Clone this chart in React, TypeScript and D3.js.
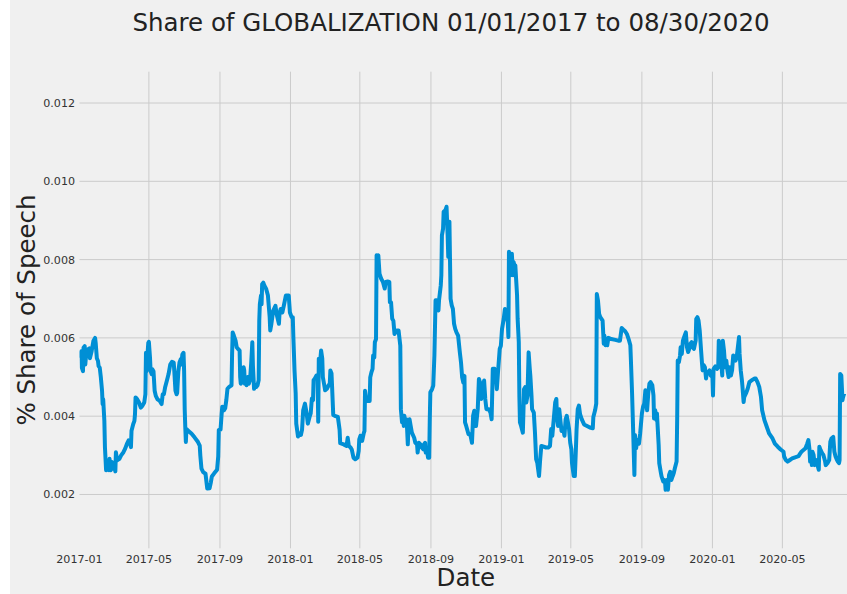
import React, { useRef, useEffect } from 'react';
import * as d3 from 'd3';

const W = 847;
const H = 594;

const START = Date.UTC(2017, 0, 1);
const END = Date.UTC(2020, 7, 30);

// days since 2017-01-01
const dayOffsets = [
  0, 3, 4, 6, 7, 9, 10, 12, 14, 17,
  18, 21, 24, 27, 28, 30, 32, 33, 35, 37,
  39, 40, 41, 43, 44, 46, 47, 49, 51, 52,
  54, 56, 58, 60, 62, 63, 65, 69, 72, 76,
  79, 82, 85, 87, 89, 90, 93, 95, 96, 97,
  100, 103, 106, 109, 112, 114, 115, 116, 118, 119,
  120, 122, 123, 125, 126, 128, 130, 132, 135, 139,
  142, 144, 146, 148, 151, 154, 157, 160, 163, 164,
  166, 168, 169, 171, 173, 175, 176, 178, 180, 181,
  182, 183, 184, 185, 188, 194, 199, 205, 208, 209,
  211, 214, 218, 221, 225, 227, 229, 233, 238, 240,
  241, 244, 246, 247, 250, 252, 254, 256, 259, 263,
  264, 265, 267, 270, 272, 274, 277, 278, 279, 281,
  282, 284, 285, 286, 288, 289, 291, 293, 295, 297,
  299, 300, 302, 304, 306, 308, 310, 311, 312, 314,
  315, 316, 318, 320, 323, 326, 329, 330, 332, 335,
  339, 341, 345, 346, 348, 351, 354, 357, 362, 364,
  367, 369, 370, 372, 374, 375, 378, 380, 383, 385,
  387, 390, 393, 395, 398, 400, 402, 404, 405, 407,
  410, 412, 413, 414, 416, 418, 420, 421, 423, 425,
  428, 431, 433, 434, 436, 437, 439, 443, 447, 450,
  451, 457, 462, 464, 466, 469, 471, 474, 477, 481,
  483, 484, 486, 489, 492, 493, 494, 496, 498, 502,
  503, 505, 507, 508, 510, 511, 513, 514, 516, 517,
  519, 522, 525, 528, 530, 533, 536, 537, 539, 541,
  543, 545, 549, 552, 555, 556, 558, 560, 561, 562,
  564, 566, 568, 569, 571, 573, 575, 579, 581, 584,
  585, 587, 590, 592, 595, 596, 598, 599, 601, 603,
  605, 606, 607, 610, 612, 614, 616, 618, 621, 622,
  625, 626, 627, 629, 630, 633, 635, 637, 638, 640,
  642, 644, 646, 648, 650, 652, 655, 658, 660, 662,
  664, 666, 667, 669, 673, 676, 679, 681, 683, 685,
  686, 689, 691, 693, 695, 697, 700, 702, 704, 708,
  711, 713, 715, 718, 720, 722, 724, 727, 729, 731,
  734, 736, 738, 741, 742, 743, 745, 746, 748, 750,
  751, 753, 754, 757, 758, 760, 761, 762, 764, 767,
  768, 769, 771, 773, 775, 777, 779, 780, 782, 783,
  786, 788, 790, 792, 795, 797, 799, 803, 807, 811,
  814, 816, 818, 821, 823, 825, 826, 828, 830, 833,
  834, 837, 839, 841, 843, 845, 847, 849, 851, 852,
  855, 857, 859, 860, 862, 864, 866, 869, 873, 878,
  883, 888, 889, 892, 894, 895, 897, 899, 901, 905,
  907, 908, 910, 912, 913, 915, 920, 927, 932, 935,
  938, 941, 944, 947, 950, 953, 954, 956, 958, 960,
  961, 963, 965, 968, 970, 973, 975, 977, 979, 980,
  982, 984, 986, 988, 991, 993, 994, 996, 998, 999,
  1002, 1003, 1006, 1007, 1010, 1011, 1013, 1014, 1016, 1018,
  1020, 1022, 1024, 1026, 1028, 1030, 1033, 1034, 1035, 1037,
  1039, 1040, 1042, 1044, 1046, 1048, 1049, 1051, 1053, 1055,
  1057, 1059, 1061, 1063, 1066, 1067, 1069, 1071, 1073, 1075,
  1077, 1078, 1080, 1082, 1084, 1085, 1088, 1090, 1092, 1095,
  1096, 1097, 1100, 1103, 1105, 1106, 1108, 1110, 1112, 1113,
  1115, 1117, 1119, 1121, 1123, 1125, 1127, 1129, 1131, 1133,
  1135, 1137, 1139, 1141, 1142, 1144, 1146, 1147, 1149, 1150,
  1153, 1156, 1159, 1163, 1168, 1170, 1173, 1176, 1179, 1181,
  1185, 1189, 1193, 1199, 1203, 1208, 1213, 1218, 1219, 1222,
  1225, 1229, 1233, 1238, 1244, 1247, 1249, 1253, 1256, 1259,
  1261, 1263, 1264, 1266, 1267, 1268, 1270, 1271, 1272, 1274,
  1276, 1279, 1280, 1282, 1285, 1287, 1290, 1291, 1294, 1297,
  1299, 1301, 1304, 1306, 1308, 1310, 1312, 1314, 1315, 1316,
  1318, 1320, 1321, 1323,
];

// share of speech for each day above
const shares = [
  0.00549, 0.00566, 0.00524, 0.00515, 0.00575, 0.00579, 0.00532, 0.00566, 0.0057, 0.00573,
  0.00548, 0.00566, 0.00592, 0.006, 0.00587, 0.00548, 0.00541, 0.00528, 0.00524, 0.00498,
  0.00465, 0.00431, 0.00443, 0.00388, 0.00321, 0.00262, 0.00266, 0.00287, 0.00262, 0.00291,
  0.00262, 0.00283, 0.00266, 0.00279, 0.00259, 0.00308, 0.00287, 0.00291, 0.003, 0.00308,
  0.00317, 0.00329, 0.00338, 0.00334, 0.00321, 0.00363, 0.0038, 0.00388, 0.00405, 0.00448,
  0.00443, 0.00435, 0.00422, 0.00427, 0.00435, 0.00456, 0.00562, 0.00515, 0.00566, 0.00587,
  0.0059, 0.00549, 0.00515, 0.00507, 0.0052, 0.00515, 0.00465, 0.00452, 0.00443, 0.00439,
  0.00431, 0.00456, 0.00456, 0.00473, 0.0049, 0.00507, 0.00532, 0.00539, 0.00537, 0.00515,
  0.00465, 0.00456, 0.0046, 0.00515, 0.00537, 0.00545, 0.00532, 0.00558, 0.00562, 0.00515,
  0.00418, 0.00372, 0.00334, 0.00367, 0.00363, 0.00355, 0.00346, 0.00334, 0.00325, 0.003,
  0.00266, 0.00257, 0.00253, 0.00215, 0.00216, 0.00229, 0.00246, 0.00254, 0.00263, 0.00297,
  0.00365, 0.00366, 0.00407, 0.00424, 0.00415, 0.0042, 0.00441, 0.0047, 0.00475, 0.00479,
  0.00559, 0.00614, 0.00606, 0.00593, 0.00576, 0.00572, 0.00568, 0.005, 0.00483, 0.00487,
  0.005, 0.00525, 0.00517, 0.00483, 0.00496, 0.00479, 0.005, 0.00483, 0.00492, 0.00534,
  0.00589, 0.0053, 0.0047, 0.00479, 0.00475, 0.00479, 0.00492, 0.00644, 0.00686, 0.00708,
  0.00686, 0.00737, 0.00741, 0.00733, 0.00725, 0.00708, 0.00653, 0.00619, 0.00636, 0.00669,
  0.00682, 0.00661, 0.00636, 0.00661, 0.00674, 0.00665, 0.00686, 0.00708, 0.00708, 0.00665,
  0.00653, 0.00653, 0.00602, 0.00517, 0.00458, 0.00381, 0.00348, 0.00356, 0.00352, 0.00365,
  0.00415, 0.00432, 0.00407, 0.00381, 0.00398, 0.00407, 0.00445, 0.00441, 0.00492, 0.00496,
  0.00504, 0.00492, 0.00386, 0.00547, 0.00534, 0.00568, 0.00547, 0.005, 0.00483, 0.00466,
  0.0047, 0.00479, 0.00483, 0.00517, 0.00509, 0.00475, 0.00403, 0.004, 0.00398, 0.00365,
  0.00331, 0.00328, 0.00324, 0.00345, 0.00324, 0.0032, 0.00315, 0.00294, 0.0029, 0.00294,
  0.00311, 0.00341, 0.0035, 0.00337, 0.00358, 0.00362, 0.00465, 0.00444, 0.00439, 0.00439,
  0.00499, 0.00512, 0.00521, 0.00555, 0.0055, 0.00589, 0.00597, 0.00811, 0.00807, 0.00811,
  0.00764, 0.00751, 0.00743, 0.00726, 0.00743, 0.00744, 0.00743, 0.00691, 0.00691, 0.00649,
  0.00644, 0.0061, 0.00619, 0.00619, 0.0058, 0.00418, 0.00384, 0.00401, 0.00375, 0.00401,
  0.00384, 0.00392, 0.00328, 0.00367, 0.00392, 0.00375, 0.00358, 0.00345, 0.00332, 0.00328,
  0.00307, 0.00332, 0.00328, 0.0032, 0.00315, 0.00328, 0.00332, 0.00307, 0.00315, 0.00294,
  0.00294, 0.00392, 0.00461, 0.00469, 0.00478, 0.00555, 0.00696, 0.00696, 0.0067, 0.00696,
  0.00734, 0.0076, 0.00862, 0.00879, 0.00922, 0.00926, 0.00935, 0.00858, 0.00807, 0.00897,
  0.007, 0.00683, 0.00674, 0.00636, 0.00623, 0.00615, 0.00606, 0.00563, 0.00538, 0.00499,
  0.00486, 0.00503, 0.00384, 0.00375, 0.00354, 0.00354, 0.00332, 0.00401, 0.00414, 0.00384,
  0.00375, 0.00418, 0.00495, 0.00486, 0.00444, 0.00469, 0.00491, 0.00444, 0.00418, 0.00418,
  0.00409, 0.00392, 0.00521, 0.00521, 0.00512, 0.00469, 0.00512, 0.00572, 0.0058, 0.00623,
  0.00649, 0.00674, 0.0067, 0.0064, 0.00602, 0.0082, 0.00794, 0.0076, 0.00815, 0.0076,
  0.00794, 0.00781, 0.00785, 0.00709, 0.00649, 0.00589, 0.00452, 0.00384, 0.00375, 0.00358,
  0.00409, 0.00469, 0.00474, 0.00435, 0.00452, 0.00563, 0.00521, 0.00503, 0.00452, 0.00418,
  0.00409, 0.00358, 0.0029, 0.00281, 0.00247, 0.0029, 0.00324, 0.00322, 0.0032, 0.0032,
  0.00324, 0.00367, 0.0035, 0.00401, 0.00435, 0.00444, 0.00401, 0.00375, 0.00418, 0.00375,
  0.00362, 0.00367, 0.0035, 0.00392, 0.00401, 0.00384, 0.00367, 0.00332, 0.00315, 0.00281,
  0.00247, 0.00247, 0.00324, 0.00367, 0.00418, 0.00427, 0.00405, 0.00392, 0.00379, 0.00375,
  0.00371, 0.00369, 0.00398, 0.00415, 0.00432, 0.00712, 0.00695, 0.00661, 0.00653, 0.00644,
  0.00585, 0.00606, 0.00581, 0.00593, 0.00581, 0.006, 0.00597, 0.00595, 0.00593, 0.00593,
  0.00625, 0.00621, 0.00617, 0.0061, 0.00597, 0.00581, 0.00542, 0.00458, 0.00356, 0.0025,
  0.00352, 0.00318, 0.00339, 0.0033, 0.00356, 0.00407, 0.00424, 0.00432, 0.00466, 0.00449,
  0.00415, 0.00458, 0.00483, 0.00487, 0.00479, 0.00453, 0.00394, 0.00415, 0.0039, 0.00407,
  0.00326, 0.0028, 0.00254, 0.00246, 0.00233, 0.00237, 0.00233, 0.00212, 0.00237, 0.00212,
  0.0025, 0.00258, 0.00237, 0.00246, 0.00254, 0.00267, 0.00284, 0.0039, 0.00542, 0.00538,
  0.00555, 0.00576, 0.00559, 0.00593, 0.00602, 0.0061, 0.00614, 0.00576, 0.00564, 0.00572,
  0.00585, 0.00589, 0.00576, 0.00572, 0.00593, 0.00648, 0.00653, 0.00644, 0.00619, 0.00576,
  0.00534, 0.00517, 0.0053, 0.00525, 0.00496, 0.00508, 0.00513, 0.00517, 0.00504, 0.005,
  0.00453, 0.00521, 0.00527, 0.00521, 0.00525, 0.00593, 0.00568, 0.00542, 0.00504, 0.00593,
  0.00568, 0.00525, 0.00542, 0.00517, 0.005, 0.00525, 0.00504, 0.00517, 0.00555, 0.00551,
  0.00542, 0.00551, 0.00576, 0.00602, 0.00559, 0.00517, 0.00492, 0.00475, 0.00436, 0.00449,
  0.00458, 0.0047, 0.00487, 0.00492, 0.00496, 0.00496, 0.00487, 0.00475, 0.00449, 0.00415,
  0.0039, 0.00373, 0.00356, 0.00343, 0.0033, 0.00322, 0.00315, 0.00309, 0.00297, 0.00288,
  0.00284, 0.00288, 0.00292, 0.00295, 0.00298, 0.00305, 0.00309, 0.00314, 0.00318, 0.0033,
  0.00339, 0.00314, 0.00284, 0.00297, 0.00275, 0.00309, 0.00301, 0.00288, 0.00275, 0.00288,
  0.0028, 0.00263, 0.00322, 0.00314, 0.00305, 0.00301, 0.00284, 0.00275, 0.0028, 0.00288,
  0.00335, 0.00343, 0.00347, 0.00309, 0.00297, 0.0029, 0.00284, 0.0028, 0.00288, 0.00508,
  0.00504, 0.00441, 0.00449, 0.00458,
];

const yTicks = [0.002, 0.004, 0.006, 0.008, 0.01, 0.012];

const TITLE = 'Share of GLOBALIZATION 01/01/2017 to 08/30/2020';

const FONT = '"DejaVu Sans", sans-serif';

const ShareChart = () => {
  const svgRef = useRef(null);

  useEffect(() => {
    const svg = d3.select(svgRef.current);
    svg.selectAll('*').remove();

    const left = 79.5;
    const right = 852.3;
    const top = 71.7;
    const bottom = 548.3;

    const data = dayOffsets.map((d, i) => ({
      date: d3.utcDay.offset(new Date(START), d),
      value: shares[i],
    }));

    // scales
    const x = d3.scaleUtc().domain([new Date(START), new Date(END)]).range([left, right]);
    const y = d3.scaleLinear().domain([0.000625, 0.0128]).range([bottom, top]);

    // background
    svg.append('rect').attr('width', W).attr('height', H).attr('fill', '#ffffff');
    svg.append('rect').attr('x', 10).attr('width', W - 10).attr('height', H).attr('fill', '#f0f0f0');

    svg
      .append('defs')
      .append('clipPath')
      .attr('id', 'plot-clip')
      .append('rect')
      .attr('x', left)
      .attr('y', top)
      .attr('width', right - left)
      .attr('height', bottom - top);

    // grid
    const xTicks = x.ticks(d3.utcMonth.every(4)).filter((t) => x(t) > left + 1);
    const grid = svg.append('g').attr('stroke', '#cbcbcb').attr('stroke-width', 1);
    grid
      .selectAll('.hgrid')
      .data(yTicks)
      .join('line')
      .attr('x1', left)
      .attr('x2', right)
      .attr('y1', (d) => y(d))
      .attr('y2', (d) => y(d));
    grid
      .selectAll('.vgrid')
      .data(xTicks)
      .join('line')
      .attr('x1', (d) => x(d))
      .attr('x2', (d) => x(d))
      .attr('y1', top)
      .attr('y2', bottom);

    // tick labels
    const fmt = d3.utcFormat('%Y-%m');
    svg
      .append('g')
      .selectAll('text')
      .data(x.ticks(d3.utcMonth.every(4)))
      .join('text')
      .attr('x', (d) => x(d))
      .attr('y', 563)
      .attr('text-anchor', 'middle')
      .attr('font-family', FONT)
      .attr('font-size', 11.1)
      .attr('fill', '#333333')
      .text((d) => fmt(d));

    svg
      .append('g')
      .selectAll('text')
      .data(yTicks)
      .join('text')
      .attr('x', 75)
      .attr('y', (d) => y(d))
      .attr('dy', '0.36em')
      .attr('text-anchor', 'end')
      .attr('font-family', FONT)
      .attr('font-size', 11.1)
      .attr('fill', '#333333')
      .text((d) => d3.format('.3f')(d));

    // line
    const myLine = d3
      .line()
      .x((d) => x(d.date))
      .y((d) => y(d.value));

    svg
      .append('path')
      .datum(data)
      .attr('clip-path', 'url(#plot-clip)')
      .attr('d', myLine)
      .attr('fill', 'none')
      .attr('stroke', '#008fd5')
      .attr('stroke-width', 4)
      .attr('stroke-linejoin', 'round');

    // titles
    svg
      .append('text')
      .attr('x', 451)
      .attr('y', 31)
      .attr('text-anchor', 'middle')
      .attr('font-family', FONT)
      .attr('font-size', 24.5)
      .attr('fill', '#222222')
      .text(TITLE);

    svg
      .append('text')
      .attr('x', (left + right) / 2)
      .attr('y', 586)
      .attr('text-anchor', 'middle')
      .attr('font-family', FONT)
      .attr('font-size', 24.5)
      .attr('fill', '#222222')
      .text('Date');

    svg
      .append('text')
      .attr('transform', `translate(35, ${(top + bottom) / 2}) rotate(-90)`)
      .attr('text-anchor', 'middle')
      .attr('font-family', FONT)
      .attr('font-size', 24.5)
      .attr('fill', '#222222')
      .text('% Share of Speech');
  }, []);

  return (
    <svg
      ref={svgRef}
      width={W}
      height={H}
      style={{ position: 'absolute', left: 0, top: 0, display: 'block' }}
    />
  );
};

export default function App() {
  return <ShareChart />;
}
